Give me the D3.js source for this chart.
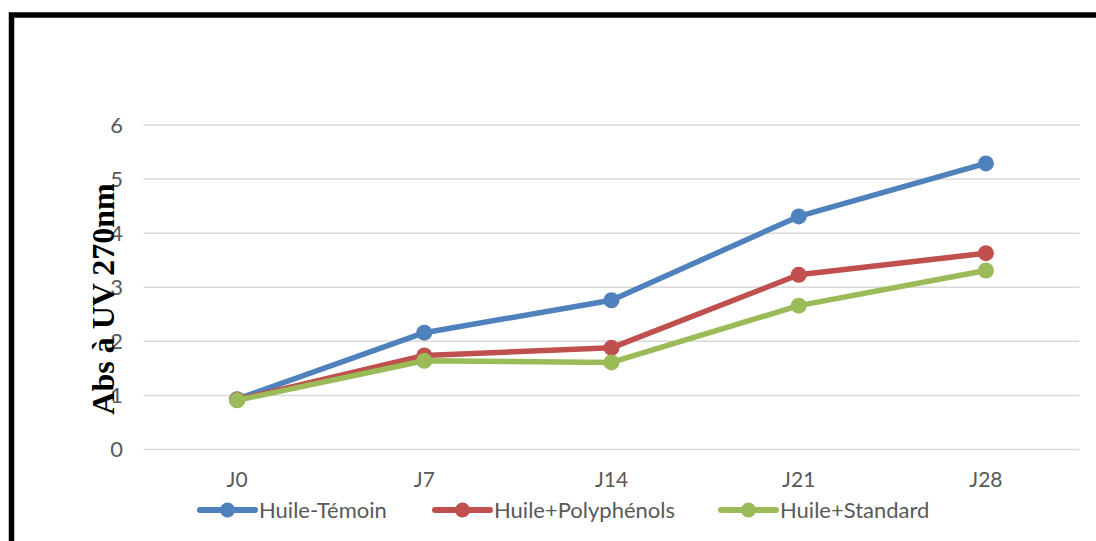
<!DOCTYPE html>
<html>
<head>
<meta charset="utf-8">
<script src="https://cdn.jsdelivr.net/npm/d3@7"></script>
<style>
  body { margin: 0; background: #fff; }
  svg { display: block; }
</style>
</head>
<body>
<svg id="chart" width="1096" height="541"></svg>
<script>
// data
const days = ["J0", "J7", "J14", "J21", "J28"];
const temoin = [0.93, 2.16, 2.76, 4.31, 5.29];
const polyphenols = [0.92, 1.74, 1.88, 3.23, 3.63];
const standard = [0.91, 1.64, 1.61, 2.66, 3.31];
const yTicks = [0, 1, 2, 3, 4, 5, 6];

const series = [
    { name: "Huile-Témoin", values: temoin, color: "#4F81BD" },
    { name: "Huile+Polyphénols", values: polyphenols, color: "#C0504D" },
    { name: "Huile+Standard", values: standard, color: "#9BBB59" }
];

const svg = d3.select("#chart");
const font = "Lato, 'Open Sans', sans-serif";

// outer frame (right and bottom sides are cropped off)
svg.append("path")
    .attr("d", "M11.5,560 L11.5,15 L1110,15")
    .attr("fill", "none")
    .attr("stroke", "#000")
    .attr("stroke-width", 5.5);

const x = d3.scaleBand().domain(days).range([143.5, 1079.5]);
const y = d3.scaleLinear().domain([0, 6]).range([449.5, 125]);

// gridlines
svg.append("g")
    .selectAll("line")
    .data(yTicks)
    .enter().append("line")
    .attr("x1", 143.5)
    .attr("x2", 1079.5)
    .attr("y1", d => y(d))
    .attr("y2", d => y(d))
    .attr("stroke", "#d9d9d9")
    .attr("stroke-width", 1.5);

// y axis labels
const yAxis = svg.append("g")
    .attr("transform", "translate(123,0)")
    .call(d3.axisLeft(y).tickValues(yTicks).tickFormat(d3.format("d")).tickSize(0).tickPadding(0));
yAxis.select(".domain").remove();
yAxis.selectAll("text")
    .attr("font-family", font)
    .attr("font-size", 22)
    .attr("fill", "#595959");

// x axis labels
const xAxis = svg.append("g")
    .attr("transform", "translate(0,472)")
    .call(d3.axisBottom(x).tickSize(0).tickPadding(0));
xAxis.select(".domain").remove();
xAxis.selectAll("text")
    .attr("font-family", font)
    .attr("font-size", 21)
    .attr("fill", "#595959");

// lines and markers
const line = d3.line()
    .x((d, i) => x(days[i]) + x.bandwidth() / 2)
    .y(d => y(d));

series.forEach(s => {
    svg.append("path")
        .datum(s.values)
        .attr("d", line)
        .attr("fill", "none")
        .attr("stroke", s.color)
        .attr("stroke-width", 5.5)
        .attr("stroke-linejoin", "round");

    svg.append("g")
        .selectAll("circle")
        .data(s.values)
        .enter().append("circle")
        .attr("cx", (d, i) => x(days[i]) + x.bandwidth() / 2)
        .attr("cy", d => y(d))
        .attr("r", 8)
        .attr("fill", s.color);
});

// y axis title
svg.append("text")
    .attr("transform", "translate(114,299) rotate(-90)")
    .attr("text-anchor", "middle")
    .attr("font-family", "'Liberation Serif', 'Times New Roman', serif")
    .attr("font-weight", "bold")
    .attr("font-size", 32)
    .attr("fill", "#000")
    .text("Abs à UV 270nm");

// legend
const legendX = [200, 435, 721];
const legend = svg.append("g")
    .selectAll("g")
    .data(series)
    .enter().append("g")
    .attr("transform", (d, i) => `translate(${legendX[i]},510)`);

legend.append("line")
    .attr("x1", 0).attr("x2", 55)
    .attr("stroke", d => d.color)
    .attr("stroke-width", 6)
    .attr("stroke-linecap", "round");

legend.append("circle")
    .attr("cx", 27.5)
    .attr("r", 7.5)
    .attr("fill", d => d.color);

legend.append("text")
    .attr("x", 59)
    .attr("dy", "0.35em")
    .attr("font-family", font)
    .attr("font-size", 22)
    .attr("fill", "#595959")
    .text(d => d.name);
</script>
</body>
</html>
